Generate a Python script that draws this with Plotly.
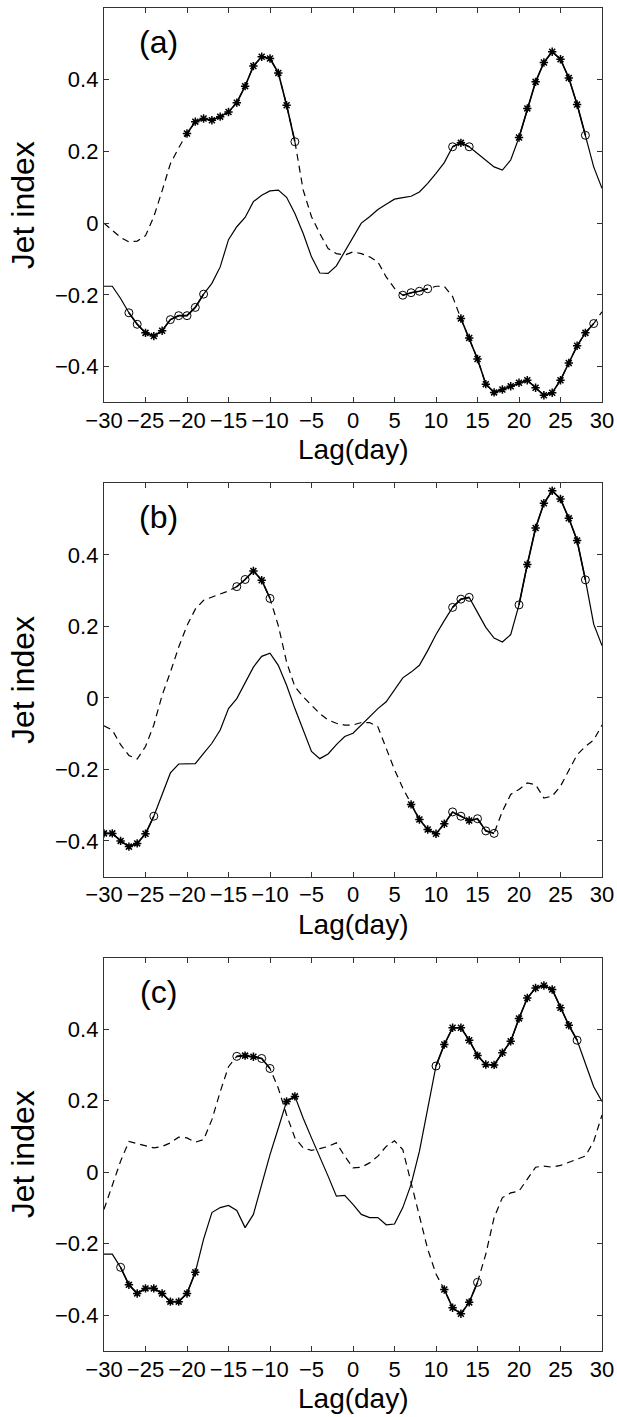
import plotly.graph_objects as go

lags = list(range(-30, 31))

# ---- panel (a) ----
a_solid = [-0.176, -0.176, -0.21, -0.25, -0.282, -0.306, -0.315, -0.300, -0.269, -0.258,
           -0.258, -0.235, -0.198, -0.168, -0.122, -0.046, -0.010, 0.016, 0.060, 0.078,
           0.090, 0.092, 0.072, 0.027, -0.029, -0.094, -0.139, -0.140, -0.119, -0.080,
           -0.038, 0.000, 0.018, 0.038, 0.053, 0.067, 0.071, 0.075, 0.087, 0.111,
           0.139, 0.169, 0.213, 0.224, 0.213, 0.194, 0.176, 0.157, 0.148, 0.176,
           0.239, 0.320, 0.394, 0.448, 0.478, 0.457, 0.405, 0.331, 0.245, 0.157, 0.097]
a_dashed = [0.000, -0.020, -0.040, -0.052, -0.050, -0.035, 0.018, 0.090, 0.166, 0.210,
            0.250, 0.283, 0.292, 0.287, 0.297, 0.310, 0.336, 0.382, 0.438, 0.464,
            0.459, 0.419, 0.329, 0.227, 0.092, 0.018, -0.029, -0.071, -0.085, -0.089,
            -0.080, -0.085, -0.094, -0.108, -0.150, -0.182, -0.201, -0.194, -0.190, -0.183,
            -0.176, -0.176, -0.205, -0.266, -0.320, -0.379, -0.449, -0.472, -0.464, -0.455,
            -0.445, -0.438, -0.459, -0.480, -0.473, -0.438, -0.390, -0.342, -0.306, -0.280, -0.247]
a_solid_star = [-25, -24, -23, 13, 20, 21, 22, 23, 24, 25, 26, 27]
a_solid_circ = [-27, -26, -22, -21, -20, -19, -18, 12, 14, 28]
a_dashed_star = [-20, -19, -18, -17, -16, -15, -14, -13, -12, -11, -10, -9, -8,
                 13, 14, 15, 16, 17, 18, 19, 20, 21, 22, 23, 24, 25, 26, 27, 28]
a_dashed_circ = [-7, 6, 7, 8, 9, 29]

# ---- panel (b) ----
b_solid = [-0.379, -0.379, -0.400, -0.416, -0.407, -0.380, -0.331, -0.270, -0.210, -0.185,
           -0.185, -0.184, -0.155, -0.127, -0.090, -0.030, -0.002, 0.044, 0.086, 0.116,
           0.125, 0.091, 0.035, -0.030, -0.090, -0.150, -0.170, -0.157, -0.131, -0.108,
           -0.099, -0.076, -0.053, -0.030, -0.011, 0.021, 0.056, 0.072, 0.091, 0.132,
           0.177, 0.216, 0.253, 0.276, 0.281, 0.239, 0.197, 0.167, 0.156, 0.177,
           0.260, 0.373, 0.475, 0.544, 0.579, 0.556, 0.502, 0.440, 0.330, 0.206, 0.146]
b_dashed = [-0.078, -0.090, -0.131, -0.161, -0.171, -0.136, -0.076, 0.007, 0.072, 0.142,
            0.202, 0.248, 0.273, 0.281, 0.290, 0.299, 0.311, 0.331, 0.355, 0.329,
            0.278, 0.202, 0.100, 0.031, 0.003, -0.020, -0.044, -0.062, -0.071, -0.076,
            -0.076, -0.069, -0.069, -0.081, -0.141, -0.201, -0.252, -0.298, -0.340, -0.368,
            -0.380, -0.352, -0.319, -0.331, -0.343, -0.338, -0.372, -0.379, -0.317, -0.270,
            -0.256, -0.238, -0.243, -0.280, -0.275, -0.247, -0.201, -0.159, -0.136, -0.118, -0.076]
b_solid_star = [-30, -29, -28, -27, -26, -25, 21, 22, 23, 24, 25, 26, 27]
b_solid_circ = [-24, 12, 13, 14, 20, 28]
b_dashed_star = [-12, -11, 7, 8, 9, 10, 11, 14]
b_dashed_circ = [-14, -13, -10, 12, 13, 15, 16, 17]

# ---- panel (c) ----
c_solid = [-0.229, -0.229, -0.266, -0.315, -0.339, -0.325, -0.325, -0.339, -0.362, -0.362,
           -0.339, -0.280, -0.187, -0.113, -0.099, -0.093, -0.107, -0.155, -0.118, -0.034,
           0.049, 0.123, 0.198, 0.212, 0.151, 0.096, 0.045, -0.011, -0.067, -0.065,
           -0.090, -0.118, -0.127, -0.127, -0.147, -0.145, -0.099, -0.034, 0.058, 0.179,
           0.297, 0.357, 0.404, 0.404, 0.369, 0.326, 0.301, 0.300, 0.334, 0.366,
           0.430, 0.487, 0.515, 0.522, 0.511, 0.460, 0.411, 0.369, 0.304, 0.239, 0.198]
c_dashed = [-0.104, -0.034, 0.031, 0.086, 0.080, 0.072, 0.068, 0.072, 0.082, 0.098,
            0.096, 0.084, 0.091, 0.147, 0.225, 0.295, 0.324, 0.326, 0.323, 0.318,
            0.290, 0.235, 0.160, 0.096, 0.068, 0.061, 0.066, 0.072, 0.082, 0.045,
            0.012, 0.014, 0.026, 0.045, 0.072, 0.088, 0.063, -0.030, -0.127, -0.215,
            -0.285, -0.328, -0.379, -0.396, -0.364, -0.308, -0.229, -0.127, -0.071, -0.058,
            -0.053, -0.020, 0.014, 0.017, 0.014, 0.019, 0.028, 0.035, 0.045, 0.086, 0.160]
c_solid_star = [-27, -26, -25, -24, -23, -22, -21, -20, -19, -8, -7,
                11, 12, 13, 14, 15, 16, 17, 18, 19, 20, 21, 22, 23, 24, 25, 26]
c_solid_circ = [-28, 10, 27]
c_dashed_star = [-13, -12, 11, 12, 13, 14]
c_dashed_circ = [-14, -11, -10, 15]

panel_labels = ["(a)", "(b)", "(c)"]
x_title = "Lag(day)"
y_title = "Jet index"
x_ticks = list(range(-30, 31, 5))
x_ticktext = [("\u2212" + str(-t)) if t < 0 else str(t) for t in x_ticks]
y_ticks = [-0.4, -0.2, 0, 0.2, 0.4]
y_ticktext = ["\u22120.4", "\u22120.2", "0", "0.2", "0.4"]

panels = [
    (a_solid, a_dashed, a_solid_star, a_solid_circ, a_dashed_star, a_dashed_circ),
    (b_solid, b_dashed, b_solid_star, b_solid_circ, b_dashed_star, b_dashed_circ),
    (c_solid, c_dashed, c_solid_star, c_solid_circ, c_dashed_star, c_dashed_circ),
]

domains = [[0.7063, 1.0], [0.3532, 0.6461], [0.0, 0.2929]]
FONT = "Liberation Sans, Arial, sans-serif"
LW = 1.2
fig = go.Figure()

for i, (sol, das, s_star, s_circ, d_star, d_circ) in enumerate(panels):
    xa = "x" if i == 0 else f"x{i+1}"
    ya = "y" if i == 0 else f"y{i+1}"
    for vals, dash, stars, circs in [(sol, "solid", s_star, s_circ), (das, "7px,5px", d_star, d_circ)]:
        fig.add_trace(go.Scatter(x=lags, y=vals, mode="lines", xaxis=xa, yaxis=ya,
                                 line=dict(color="black", width=LW, dash=dash),
                                 showlegend=False, hoverinfo="skip"))
        sig = set(stars) | set(circs)
        ysig = [v if l in sig else None for l, v in zip(lags, vals)]
        fig.add_trace(go.Scatter(x=lags, y=ysig, mode="lines", xaxis=xa, yaxis=ya,
                                 line=dict(color="black", width=LW + 0.4),
                                 connectgaps=False, showlegend=False, hoverinfo="skip"))
        fig.add_trace(go.Scatter(x=stars, y=[vals[lags.index(l)] for l in stars],
                                 mode="markers", xaxis=xa, yaxis=ya,
                                 marker=dict(symbol="asterisk-open", size=7, color="black",
                                             line=dict(color="black", width=1.5)),
                                 showlegend=False))
        fig.add_trace(go.Scatter(x=circs, y=[vals[lags.index(l)] for l in circs],
                                 mode="markers", xaxis=xa, yaxis=ya,
                                 marker=dict(symbol="circle-open", size=8, color="black",
                                             line=dict(color="black", width=1)),
                                 showlegend=False))

    axis_common = dict(showline=True, linecolor="#333333", linewidth=1.3, mirror="ticks",
                       ticks="inside", ticklen=5, tickcolor="#333333", tickwidth=1,
                       showgrid=False, zeroline=False, automargin=False,
                       tickfont=dict(family=FONT, size=22, color="black"))
    xkey = "xaxis" if i == 0 else f"xaxis{i+1}"
    ykey = "yaxis" if i == 0 else f"yaxis{i+1}"
    fig.update_layout({
        xkey: dict(axis_common, range=[-30, 30], tickvals=x_ticks, ticktext=x_ticktext,
                   anchor=ya, domain=[0, 1], ticklabelstandoff=-2),
        ykey: dict(axis_common, range=[-0.5, 0.6], tickvals=y_ticks, ticktext=y_ticktext,
                   anchor=xa, domain=domains[i],
                   title=dict(text=y_title, font=dict(family=FONT, size=32, color="black"),
                              standoff=10)),
    })
    # x-axis title (placed explicitly below the tick labels)
    fig.add_annotation(x=0.5, y=0, xref=f"{xa} domain", yref=f"{ya} domain",
                       xanchor="center", yanchor="top", yshift=-31, text=x_title,
                       showarrow=False, borderpad=0,
                       font=dict(family=FONT, size=28, color="black"))
    fig.add_annotation(x=-23.4, y=0.505, xref=xa, yref=ya, text=panel_labels[i],
                       showarrow=False, font=dict(family=FONT, size=32, color="black"))

fig.update_layout(width=617, height=1417, margin=dict(l=104, r=15, t=8, b=66),
                  plot_bgcolor="white", paper_bgcolor="white", showlegend=False)

fig.write_html("out.html", config={"displayModeBar": False},
               post_script="document.body.style.margin='0';document.body.style.overflow='hidden';")
